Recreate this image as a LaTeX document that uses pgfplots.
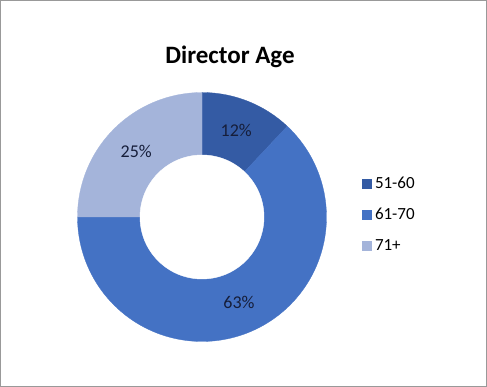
\documentclass[border=0pt]{standalone}
\usepackage{pgfplots}
\pgfplotsset{compat=1.18}
\usepackage{fontspec}
\setmainfont{Carlito}
\definecolor{cA}{RGB}{52,91,164}
\definecolor{cB}{RGB}{68,114,196}
\definecolor{cC}{RGB}{164,180,218}
\definecolor{lab}{RGB}{22,30,58}
\begin{document}
\begin{tikzpicture}
% data (percent)
\def\vA{12}\def\vB{63}\def\vC{25}
\pgfmathsetmacro{\aO}{90}
\pgfmathsetmacro{\aA}{\aO-\vA*3.6}
\pgfmathsetmacro{\aB}{\aA-\vB*3.6}
\pgfmathsetmacro{\aC}{\aB-\vC*3.6}
\pgfmathsetmacro{\mA}{(\aO+\aA)/2}
\pgfmathsetmacro{\mB}{(\aA+\aB)/2}
\pgfmathsetmacro{\mC}{(\aB+\aC)/2}
\def\cx{202}\def\cy{170}\def\R{124.5}\def\r{62}\def\rm{93}
\begin{axis}[
  scale only axis, width=487pt, height=387pt,
  xmin=0, xmax=487, ymin=0, ymax=387,
  hide axis, clip=false,
  legend style={at={(axis cs:362,212)}, anchor=north west, draw=none, fill=none,
    font=\fontsize{17}{20}\selectfont, row sep=14pt, inner sep=0pt,
    nodes={inner xsep=3.5pt}},
  legend cell align=left,
  legend image code/.code={\fill[#1] (0pt,-4.5pt) rectangle (9pt,4.5pt);},
]
\addplot[fill=cA, draw=cA, line width=0.3pt, domain=\aA:\aO, samples=60]
  ({\cx+\R*cos(x)},{\cy+\R*sin(x)}) -- (axis cs:\cx,\cy) -- cycle;
\addplot[fill=cB, draw=cB, line width=0.3pt, domain=\aB:\aA, samples=150]
  ({\cx+\R*cos(x)},{\cy+\R*sin(x)}) -- (axis cs:\cx,\cy) -- cycle;
\addplot[fill=cC, draw=cC, line width=0.3pt, domain=\aC:\aB, samples=60]
  ({\cx+\R*cos(x)},{\cy+\R*sin(x)}) -- (axis cs:\cx,\cy) -- cycle;
\addplot[forget plot, fill=white, draw=white, domain=0:360, samples=150]
  ({\cx+\r*cos(x)},{\cy+\r*sin(x)}) -- cycle;
\legend{51-60,61-70,71+}
\node[lab, font=\fontsize{18}{21}\selectfont] at (axis cs:{\cx+\rm*cos(\mA)},{\cy+\rm*sin(\mA)}) {12\%};
\node[lab, font=\fontsize{18}{21}\selectfont] at (axis cs:{\cx+\rm*cos(\mB)},{\cy+\rm*sin(\mB)}) {63\%};
\node[lab, font=\fontsize{18}{21}\selectfont] at (axis cs:{\cx+\rm*cos(\mC)},{\cy+\rm*sin(\mC)}) {25\%};
\node[anchor=base, font=\bfseries\fontsize{25}{30}\selectfont, inner sep=0pt] at (axis cs:230,323) {Director Age};
\draw[gray!80, line width=1pt] (axis cs:0.5,0.5) rectangle (axis cs:486.5,386.5);
\end{axis}
\end{tikzpicture}
\end{document}
